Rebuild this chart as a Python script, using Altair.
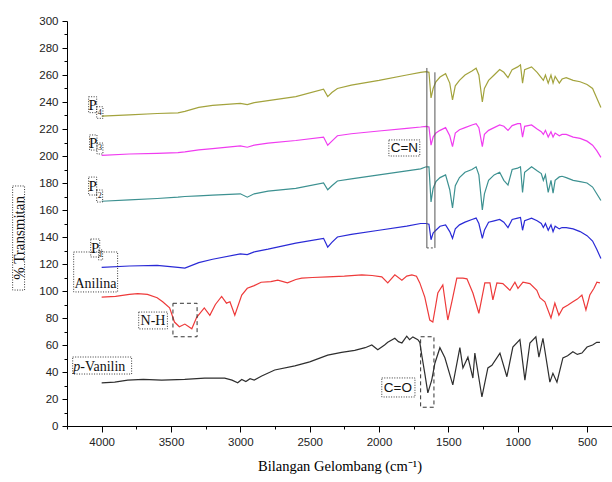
import altair as alt
import pandas as pd

# ---------------- data ----------------
# shared wavenumber grid for the four P spectra
wn_p = [4000, 3800, 3600, 3450, 3400, 3300, 3200, 3000, 2950, 2900,
        2800, 2600, 2400, 2370, 2340, 2300, 2200, 2000, 1800, 1700,
        1660, 1640, 1625, 1610, 1590, 1560, 1520, 1490, 1470, 1450,
        1420, 1380, 1330, 1300, 1280, 1255, 1240, 1210, 1170, 1130,
        1100, 1070, 1040, 1000, 980, 965, 950, 900, 860, 830,
        815, 800, 780, 760, 745, 730, 700, 680, 650, 600,
        550, 500, 460, 430, 400]
p4_t = [229.5, 230.5, 231.5, 232, 233, 236, 237.5, 239, 238, 239.5,
        241, 244, 249.5, 244, 247, 250, 252.5, 256, 260, 262,
        262.5, 262, 243, 250, 255, 258.5, 261, 254, 241.5, 252,
        256, 260, 263, 265, 260, 240, 250, 256, 260, 264,
        262, 258, 264, 266, 267.5, 254, 264, 266, 262, 258,
        256, 260, 254, 260, 254, 259, 254, 257, 258, 256,
        255, 253, 250, 243, 236]
p3_t = [200.5, 201.5, 202, 202.5, 203, 204.5, 205.5, 207.5, 206.5, 208,
        209.5, 211.5, 214, 208, 211, 215, 216.5, 218.5, 220.5, 221.5,
        222, 221.5, 208, 214, 217, 219, 221, 215, 207, 217,
        219.5, 221, 223, 224, 221, 207, 216, 219, 221, 223,
        222, 219, 222.5, 224, 224, 214, 222, 223, 220, 218,
        216, 219, 214, 218, 214, 217, 215, 216, 216, 214,
        213, 211, 208, 204, 199]
p2_t = [166.5, 167.5, 168.5, 169.5, 170, 170.5, 171, 172, 169.5, 172,
        174, 176, 180, 175, 178, 181.5, 183, 186, 189, 190.5,
        192, 192, 166, 176, 181, 184, 186, 175, 161.5, 178,
        184, 188, 190, 192, 186, 160, 172, 182, 186, 188,
        182, 178.5, 190, 191, 192, 173, 188, 192, 189, 187,
        182, 186, 173, 182, 172.5, 182, 184.5, 185, 184, 182,
        181, 180, 177, 172, 167]
p1_t = [117.5, 118.5, 119, 117.5, 117, 121, 123.5, 127.5, 127, 129,
        131, 135.5, 139, 132.5, 136, 140, 142, 145, 148, 150,
        150, 149.5, 138, 143, 145, 148, 149, 144, 139, 146,
        149, 151, 153, 154, 150, 139, 145, 151, 152, 153,
        151, 147, 153, 154, 154.5, 145, 152, 154, 152, 150,
        147, 150, 145, 149, 144, 148, 146, 147, 147, 146,
        144, 141, 137, 131, 124]

ani_wn = [4000, 3900, 3800, 3740, 3670, 3600, 3560, 3510, 3475, 3440,
          3400, 3350, 3315, 3260, 3220, 3180, 3135, 3100, 3075, 3040,
          2990, 2950, 2900, 2850, 2780, 2730, 2660, 2600, 2557, 2480,
          2370, 2250, 2124, 2050, 1980, 1937, 1886, 1835, 1800, 1763,
          1730, 1706, 1670, 1634, 1612, 1590, 1576, 1540, 1504, 1475,
          1439, 1395, 1366, 1323, 1280, 1237, 1200, 1179, 1150, 1107,
          1056, 1020, 998, 962, 912, 862, 840, 804, 760, 732,
          703, 674, 640, 602, 570, 537, 508, 480, 450, 429, 407]
ani_t = [95.5, 96, 97.5, 98, 97.5, 95, 92, 87.5, 77, 73.5,
         75.5, 72, 80.5, 87.5, 82, 90, 96, 91, 92, 82,
         97, 102, 104, 106.5, 107, 108, 106, 108.5, 109.5, 110,
         110.5, 111, 112, 111.5, 110.5, 106, 112, 108, 111, 112,
         111, 106, 95.5, 78.5, 77, 90, 98.5, 104.5, 78.5, 92,
         109.5, 109.5, 109, 98.5, 83.5, 106, 106, 93.5, 106, 105.5,
         100.5, 106.5, 102, 106.5, 105.5, 100.5, 95, 92, 80, 91,
         82, 87.5, 89.5, 92, 94, 97, 86, 97, 102, 106.5, 106]

van_wn = [4000, 3906, 3812, 3700, 3567, 3401, 3257, 3113, 3060, 3019,
          2990, 2960, 2930, 2900, 2846, 2752, 2607, 2500, 2370, 2270,
          2175, 2100, 2052, 2009, 1960, 1937, 1886, 1860, 1835, 1800,
          1780, 1756, 1720, 1706, 1691, 1670, 1648, 1620, 1597, 1561,
          1525, 1468, 1417, 1395, 1359, 1323, 1309, 1258, 1215, 1186,
          1128, 1078, 1035, 984, 948, 912, 869, 847, 818, 768,
          746, 717, 674, 640, 602, 570, 537, 500, 460, 430, 407]
van_t = [32, 32.5, 34, 34.5, 34, 34.5, 35.5, 35.5, 34, 32,
         34.5, 33, 35, 34, 37, 41.5, 44.5, 47.5, 52.5, 54.5,
         56, 58, 60, 56.5, 60, 62, 65, 62.5, 61.5, 66.5,
         64, 66, 64, 62, 52, 39, 24.5, 34, 46.5, 58,
         50.5, 30.5, 58, 43, 51, 35.5, 54, 21.5, 43, 45,
         54, 36.5, 58.5, 64, 34, 61.5, 66, 51, 65, 32.5,
         39, 32.5, 50.5, 52, 55, 53, 54, 58.5, 60, 62, 62]

series_names = ["P4", "P3", "P2", "P1", "Anilina", "p-Vanilin"]
series_colors = ["#a3a33d", "#f03cf0", "#3d9191", "#2a2ad6", "#ee3a3a", "#2e2e2e"]

# axis ticks
x_major = [4000, 3500, 3000, 2500, 2000, 1500, 1000, 500]
x_minor = [4250, 3750, 3250, 2750, 2250, 1750, 1250, 750]
y_major = [0, 20, 40, 60, 80, 100, 120, 140, 160, 180, 200, 220, 240, 260, 280, 300]
y_minor = [10, 30, 50, 70, 90, 110, 130, 150, 170, 190, 210, 230, 250, 270, 290]

# annotations
serif_txt = ["Anilina", "-Vanilin", "N-H", "P", "P", "P", "P", "4", "3", "2", "1"]
serif_x = [4045, 3992, 3630, 4065, 4061, 4065, 4047, 4014, 4012, 4014, 4007]
serif_y = [105.3, 43.7, 78.1, 238, 210, 177.8, 131.9, 232.2, 205.6, 170.4, 126.7]
serif_size = [14, 14, 14, 15, 15, 15, 15, 8, 8, 8, 8]
italic_txt = ["p"]
italic_x = [4180]
italic_y = [43.7]
sans_txt = ["C=N", "C=O"]
sans_x = [1817, 1864]
sans_y = [206.1, 28.1]
ytitle_txt = ["% Transmitan"]
ytitle_x = [4599]
ytitle_y = [139.3]

dot_x1 = [4642, 4202, 4209, 3733, 1929, 1980, 4094, 4036, 4087, 4034, 4094, 4036, 4079, 4022]
dot_x2 = [4556, 3885, 3784, 3526, 1706, 1741, 4036, 3991, 4034, 3991, 4036, 3993, 4014, 3993]
dot_y1 = [100.7, 99.3, 38.5, 71.9, 200, 21.5, 232.1, 227.9, 204.4, 201.5, 171.1, 165.9, 125.2, 123]
dot_y2 = [177.8, 128.9, 51.1, 84.4, 211.9, 35.6, 243.9, 236.5, 215.6, 209.6, 184.4, 174.8, 138.5, 130.4]

dash_x1 = [3486, 1700]
dash_x2 = [3312, 1604]
dash_y1 = [66.1, 13.9]
dash_y2 = [90.9, 66.1]

cn_x = [1655, 1597]
cn_y1 = [131.9, 131.9]
cn_y2 = [265.2, 262]

# ---------------- build chart ----------------
rows = []
for name, wn, vals in [("P4", wn_p, p4_t), ("P3", wn_p, p3_t), ("P2", wn_p, p2_t),
                       ("P1", wn_p, p1_t), ("Anilina", ani_wn, ani_t),
                       ("p-Vanilin", van_wn, van_t)]:
    for w, v in zip(wn, vals):
        rows.append({"series": name, "wn": w, "t": v})
lines_df = pd.DataFrame(rows)

xs = alt.Scale(domain=[320, 4250], reverse=True, nice=False, zero=False)
ys = alt.Scale(domain=[0, 300], nice=False, zero=False)

x_axis = alt.Axis(values=x_major, format="d", title="Bilangan Gelombang (cm⁻¹)",
                  tickSize=6, tickColor="#000", domainColor="#000", grid=False,
                  labelFont="Liberation Sans", labelFontSize=11.5, labelColor="#222",
                  labelPadding=4, labelFlush=False,
                  titleFont="Liberation Serif", titleFontSize=14.5,
                  titleFontWeight="normal", titleColor="#000", titlePadding=12)
y_axis = alt.Axis(values=y_major, format="d", title=None,
                  tickSize=5, tickColor="#000", domainColor="#000", grid=False,
                  labelFont="Liberation Sans", labelFontSize=11.5, labelColor="#222",
                  labelPadding=4, labelFlush=False)


def X(f):
    return alt.X(f, scale=xs, axis=x_axis)


def Y(f):
    return alt.Y(f, scale=ys, axis=y_axis)


lines = alt.Chart(lines_df).mark_line(strokeWidth=1.2).encode(
    x=X("wn:Q"),
    y=Y("t:Q"),
    color=alt.Color("series:N", scale=alt.Scale(domain=series_names, range=series_colors), legend=None),
)

dot_df = pd.DataFrame({"x1": dot_x1, "x2": dot_x2, "y1": dot_y1, "y2": dot_y2})
dots = alt.Chart(dot_df).mark_rect(fill="white", fillOpacity=0, stroke="#222",
                                   strokeWidth=0.9, strokeDash=[1, 1.5]).encode(
    x=X("x1:Q"), x2="x2:Q", y=Y("y1:Q"), y2="y2:Q")

dash_df = pd.DataFrame({"x1": dash_x1, "x2": dash_x2, "y1": dash_y1, "y2": dash_y2})
dashes = alt.Chart(dash_df).mark_rect(fill="white", fillOpacity=0, stroke="#333",
                                      strokeWidth=1, strokeDash=[4, 3]).encode(
    x=X("x1:Q"), x2="x2:Q", y=Y("y1:Q"), y2="y2:Q")

cn_df = pd.DataFrame({"x": cn_x, "y1": cn_y1, "y2": cn_y2})
cn_lines = alt.Chart(cn_df).mark_rule(color="#555", strokeWidth=1).encode(
    x=X("x:Q"), y=Y("y1:Q"), y2="y2:Q")
cn_bottom = alt.Chart(pd.DataFrame({"x1": [cn_x[0]], "x2": [cn_x[1]], "y": [cn_y1[0]]})).mark_rule(
    color="#555", strokeWidth=1, strokeDash=[2, 2]).encode(x=X("x1:Q"), x2="x2:Q", y=Y("y:Q"))

serif_df = pd.DataFrame({"x": serif_x, "y": serif_y, "text": serif_txt, "size": serif_size})
serif = alt.Chart(serif_df).mark_text(font="Liberation Serif", color="#111", align="center",
                                      baseline="middle").encode(
    x=X("x:Q"), y=Y("y:Q"), text="text:N", size=alt.Size("size:Q", scale=None, legend=None))

italic = alt.Chart(pd.DataFrame({"x": italic_x, "y": italic_y, "text": italic_txt})).mark_text(
    font="Liberation Serif", fontStyle="italic", fontSize=14, color="#111",
    align="center", baseline="middle").encode(x=X("x:Q"), y=Y("y:Q"), text="text:N")

sans = alt.Chart(pd.DataFrame({"x": sans_x, "y": sans_y, "text": sans_txt})).mark_text(
    font="Liberation Sans", fontSize=13.5, color="#111", align="center",
    baseline="middle").encode(x=X("x:Q"), y=Y("y:Q"), text="text:N")

ytitle = alt.Chart(pd.DataFrame({"x": ytitle_x, "y": ytitle_y, "text": ytitle_txt})).mark_text(
    font="Liberation Serif", fontSize=15, color="#111", align="center",
    baseline="middle", angle=270).encode(x=X("x:Q"), y=Y("y:Q"), text="text:N")

main = alt.layer(lines, dashes, cn_lines, cn_bottom, dots, serif, italic, sans, ytitle)

minor = alt.Chart(pd.DataFrame({"wn": [4000], "t": [0]})).mark_point(opacity=0).encode(
    x=alt.X("wn:Q", scale=xs, axis=alt.Axis(values=x_minor, labels=False, tickSize=3,
                                             domain=False, title=None, orient="bottom",
                                             grid=False, tickColor="#000")),
    y=alt.Y("t:Q", scale=ys, axis=alt.Axis(values=y_minor, labels=False, tickSize=3,
                                            domain=False, title=None, orient="left",
                                            grid=False, tickColor="#000")),
)

chart = alt.layer(main, minor).resolve_scale(x="independent", y="independent").properties(
    width=545, height=405,
    padding={"left": 67, "top": 21, "right": 0, "bottom": 56},
    autosize=alt.AutoSizeParams(type="none"),
    background="white",
).configure_view(stroke=None)

chart.save("out.html", embed_options={"renderer": "svg", "actions": False})
